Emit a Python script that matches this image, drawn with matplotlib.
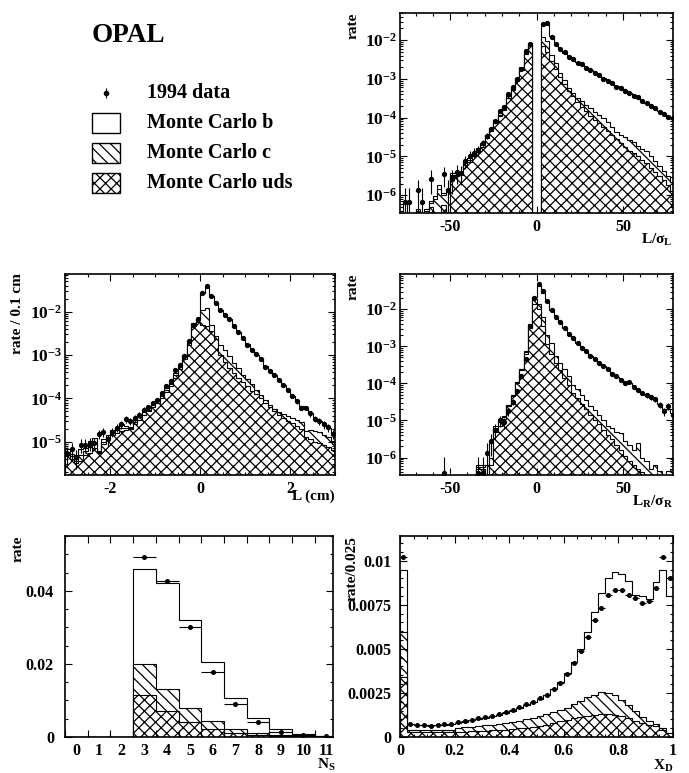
import numpy as np
import matplotlib
matplotlib.use('Agg')
import matplotlib.pyplot as plt
from matplotlib.ticker import MultipleLocator, LogLocator, FuncFormatter, NullFormatter
from matplotlib.patches import Rectangle

plt.rcParams['font.family'] = ['Liberation Serif', 'DejaVu Serif']
plt.rcParams['font.weight'] = 'bold'
plt.rcParams['mathtext.fontset'] = 'custom'
plt.rcParams['mathtext.rm'] = 'Liberation Serif:bold'
plt.rcParams['mathtext.bf'] = 'Liberation Serif:bold'
plt.rcParams['mathtext.it'] = 'Liberation Serif:bold'
plt.rcParams['axes.unicode_minus'] = False
plt.rcParams['hatch.linewidth'] = 0.9
plt.rcParams['hatch.color'] = 'black'

nan = np.nan

# ---- L / sigma_L  (log10 of rate, 64 bins of 2.5 from -80 to 80) ----
ls_edges = np.linspace(-80, 80, 65)
ls_total = [nan, -6.17, nan, nan, -6.35, nan, -6.35, -6.16, -6.03, -5.73,
            -5.95, -5.86, -5.43, -5.43, -5.39, -5.13, -5.05, -4.92, -4.79, -4.66,
            -4.44, -4.27, -4.06, -3.88, -3.71, -3.41, -3.21, -2.98, -2.70, -2.29,
            -2.08, nan, nan, -1.62, -1.57, -1.90, -2.10, -2.22, -2.32, -2.42,
            -2.50, -2.57, -2.63, -2.70, -2.78, -2.85, -2.92, -2.98, -3.05, -3.12,
            -3.19, -3.25, -3.31, -3.36, -3.42, -3.49, -3.56, -3.62, -3.70, -3.77,
            -3.84, -3.92, -3.97, -4.00]
ls_cuds = [nan, nan, nan, nan, -6.40, nan, -6.40, -6.20, -6.10, -5.85,
           -6.00, -5.90, -5.47, -5.47, -5.42, -5.17, -5.10, -4.96, -4.82, -4.70,
           -4.48, -4.30, -4.10, -3.92, -3.74, -3.45, -3.24, -3.01, -2.73, -2.32,
           -2.10, nan, nan, -1.93, -2.03, -2.38, -2.59, -2.85, -3.02, -3.24,
           -3.37, -3.50, -3.58, -3.67, -3.76, -3.85, -3.93, -4.01, -4.12, -4.24,
           -4.36, -4.44, -4.50, -4.57, -4.63, -4.72, -4.80, -4.87, -5.00, -5.12,
           -5.25, -5.38, -5.50, -5.65]
ls_uds = [nan, nan, nan, nan, nan, nan, nan, -6.30, nan, nan,
          -6.25, nan, -5.50, -5.50, -5.47, -5.22, -5.15, -5.00, -4.88, -4.75,
          -4.53, -4.35, -4.15, -3.97, -3.79, -3.50, -3.29, -3.06, -2.78, -2.36,
          -2.14, nan, nan, -2.16, -2.30, -2.55, -2.75, -2.95, -3.12, -3.30,
          -3.45, -3.60, -3.72, -3.84, -3.95, -4.05, -4.15, -4.25, -4.35, -4.45,
          -4.55, -4.65, -4.75, -4.85, -4.92, -5.00, -5.10, -5.18, -5.30, -5.40,
          -5.50, -5.60, -5.75, -5.90]
ls_data = [nan, -6.17, -6.17, nan, -5.87, -6.17, nan, -5.57, nan, nan,
           -5.46, -5.87, -5.57, -5.41, -5.43, -5.12, -4.98, -4.90, -4.84, -4.66,
           -4.47, -4.29, -4.08, -3.84, -3.73, -3.38, -3.22, -3.00, -2.74, -2.29,
           -2.10, nan, nan, -1.59, -1.56, -1.91, -2.09, -2.23, -2.31, -2.43,
           -2.49, -2.58, -2.62, -2.71, -2.77, -2.86, -2.91, -2.99, -3.05, -3.11,
           -3.20, -3.24, -3.32, -3.37, -3.43, -3.48, -3.57, -3.61, -3.71, -3.76,
           -3.85, -3.91, -3.98, -4.00]

# ---- L (cm)  (log10 of rate, 60 bins of 0.1 cm) ----
l_edges = np.linspace(-3, 3, 61)
l_total = [-5.18, -5.28, -5.40, -5.18, -5.14, -4.99, -4.91, -5.22, -4.95, -4.84,
           -4.72, -4.68, -4.60, -4.64, -4.66, -4.49, -4.38, -4.26, -4.21, -4.10,
           -4.03, -3.90, -3.76, -3.61, -3.41, -3.22, -2.99, -2.68, -2.26, -2.15,
           -1.57, -1.42, -1.64, -1.80, -1.95, -2.08, -2.18, -2.32, -2.46, -2.60,
           -2.75, -2.88, -2.99, -3.11, -3.25, -3.36, -3.47, -3.58, -3.70, -3.81,
           -3.94, -4.06, -4.17, -4.25, -4.35, -4.45, -4.53, -4.61, -4.68, -4.80]
l_cuds = [-5.24, -5.34, -5.45, -5.30, -5.22, -5.12, -5.02, -5.24, -5.00, -4.90,
          -4.78, -4.74, -4.68, -4.69, -4.68, -4.55, -4.44, -4.32, -4.26, -4.15,
          -4.06, -3.95, -3.81, -3.66, -3.46, -3.27, -3.04, -2.73, -2.30, -2.19,
          -1.97, -1.92, -2.30, -2.57, -2.76, -2.88, -3.03, -3.18, -3.30, -3.45,
          -3.55, -3.68, -3.80, -3.93, -4.03, -4.15, -4.25, -4.32, -4.36, -4.40,
          -4.45, -4.50, -4.55, -4.75, -4.72, -4.75, -4.78, -4.85, -4.90, -4.98]
l_uds = [-5.30, -5.40, -5.50, -5.45, -5.30, -5.26, -5.15, -5.26, -5.06, -4.95,
         -4.84, -4.80, -4.76, -4.74, -4.70, -4.60, -4.49, -4.38, -4.30, -4.20,
         -4.10, -4.00, -3.86, -3.72, -3.52, -3.32, -3.09, -2.78, -2.33, -2.23,
         -2.30, -2.33, -2.45, -2.62, -3.00, -3.15, -3.30, -3.42, -3.52, -3.62,
         -3.72, -3.82, -3.90, -4.00, -4.10, -4.20, -4.30, -4.38, -4.45, -4.52,
         -4.58, -4.65, -4.70, -4.90, -4.95, -5.00, -5.03, -5.08, -5.12, -5.20]
l_data = [-5.28, -5.18, -5.35, -5.07, -5.07, -5.05, -5.03, -4.82, -4.77, -4.95,
          -4.78, -4.68, -4.60, -4.48, -4.52, -4.46, -4.38, -4.26, -4.21, -4.10,
          -4.03, -3.88, -3.72, -3.61, -3.34, -3.22, -3.03, -2.68, -2.30, -2.17,
          -1.57, -1.41, -1.64, -1.80, -1.95, -2.08, -2.18, -2.32, -2.46, -2.60,
          -2.76, -2.88, -2.98, -3.10, -3.27, -3.37, -3.47, -3.58, -3.70, -3.80,
          -3.95, -4.07, -4.22, -4.22, -4.35, -4.47, -4.53, -4.60, -4.67, -4.82]

# ---- L_R / sigma_R  (log10 of rate, 64 bins) ----
lr_edges = np.linspace(-80, 80, 65)
lr_total = [nan, nan, nan, nan, nan, nan, nan, nan, nan, nan,
            nan, nan, nan, nan, nan, nan, nan, nan, -6.19, -6.19,
            -6.19, -5.60, -5.15, -5.00, -4.88, -4.57, -4.30, -3.95, -3.60, -3.13,
            -2.41, -1.67, -1.34, -1.55, -1.80, -2.01, -2.20, -2.35, -2.50, -2.66,
            -2.78, -2.90, -3.03, -3.13, -3.25, -3.34, -3.45, -3.53, -3.62, -3.73,
            -3.82, -3.92, -3.99, -3.99, -4.10, -4.18, -4.26, -4.32, -4.38, -4.45,
            -4.56, -4.68, -4.70, -4.80]
lr_cuds = [nan, nan, nan, nan, nan, nan, nan, nan, nan, nan,
           nan, nan, nan, nan, nan, nan, nan, nan, -6.25, -6.25,
           -6.20, -6.00, -5.20, -5.05, -4.90, -4.58, -4.32, -3.97, -3.62, -3.15,
           -2.45, -1.72, -1.85, -2.20, -2.70, -2.90, -3.25, -3.45, -3.60, -3.80,
           -4.05, -4.15, -4.30, -4.45, -4.60, -4.72, -4.85, -5.00, -5.15, -5.20,
           -5.30, -5.35, -5.55, -5.65, -5.80, -5.60, -6.00, -6.10, -6.30, -6.20,
           -6.35, nan, -6.35, -6.30]
lr_uds = [nan, nan, nan, nan, nan, nan, nan, nan, nan, nan,
          nan, nan, nan, nan, nan, nan, nan, nan, -6.30, -6.30,
          nan, -6.20, -5.30, -5.15, -4.97, -4.62, -4.35, -3.99, -3.64, -3.20,
          -2.50, -1.87, -2.00, -2.45, -2.95, -3.20, -3.45, -3.65, -3.85, -4.05,
          -4.25, -4.40, -4.55, -4.70, -4.85, -4.98, -5.10, -5.25, -5.40, -5.50,
          -5.65, -5.80, -5.95, -6.10, -6.20, -6.30, -6.40, nan, nan, nan,
          nan, nan, nan, nan]
lr_data = [nan, nan, nan, nan, nan, nan, nan, nan, nan, nan,
           -6.41, nan, nan, nan, nan, nan, nan, nan, -6.41, -6.41,
           -5.87, -5.56, -5.25, -5.00, -5.05, -4.75, -4.50, -4.20, -3.80, -3.35,
           -2.46, -1.70, -1.33, -1.52, -1.78, -2.01, -2.20, -2.35, -2.50, -2.68,
           -2.77, -2.90, -3.04, -3.12, -3.25, -3.33, -3.45, -3.52, -3.60, -3.74,
           -3.80, -3.92, -4.00, -3.97, -4.10, -4.17, -4.26, -4.32, -4.38, -4.43,
           -4.57, -4.75, -4.62, -4.85]

# ---- N_S (rate, integer bins 0..11) ----
ns_edges = np.arange(-0.5, 12.0, 1.0)
ns_total = [0, 0, 0, 0.0459, 0.0421, 0.0319, 0.0205, 0.0108, 0.0052, 0.0022, 0.0008, 0.0003]
ns_cuds = [0, 0, 0, 0.0200, 0.0131, 0.0079, 0.0045, 0.0022, 0.0011, 0.0006, 0.0002, 0.0001]
ns_uds = [0, 0, 0, 0.0114, 0.0072, 0.0040, 0.0022, 0.0011, 0.0005, 0.0002, 0.0001, 0.00005]
ns_data = [nan, nan, nan, 0.0493, 0.0427, 0.0302, 0.0179, 0.0091, 0.0040, 0.0015, 0.0005, 0.0002]

# ---- X_D (rate / 0.025, 40 bins) ----
xd_edges = np.linspace(0, 1, 41)
xd_total = [0.0095, 0.00075, 0.00070, 0.00068, 0.00067, 0.00068, 0.00070, 0.00074, 0.00080, 0.00087,
            0.00094, 0.00100, 0.00108, 0.00117, 0.00127, 0.00138, 0.00150, 0.00165, 0.00180, 0.00198,
            0.00218, 0.00240, 0.00272, 0.00310, 0.00362, 0.00425, 0.00500, 0.00595, 0.00708, 0.00816,
            0.00900, 0.00938, 0.00925, 0.00882, 0.00806, 0.00797, 0.00785, 0.00880, 0.00950, 0.00800]
xd_cuds = [0.00598, 0.00042, 0.00042, 0.00042, 0.00042, 0.00042, 0.00042, 0.00042, 0.00051, 0.00054,
           0.00058, 0.00062, 0.00066, 0.00070, 0.00075, 0.00080, 0.00086, 0.00093, 0.00100, 0.00108,
           0.00117, 0.00128, 0.00140, 0.00152, 0.00165, 0.00185, 0.00205, 0.00225, 0.00240, 0.00253,
           0.00250, 0.00240, 0.00211, 0.00180, 0.00145, 0.00115, 0.00090, 0.00075, 0.00050, 0.00023]
xd_uds = [0.00340, 0.00028, 0.00028, 0.00028, 0.00028, 0.00028, 0.00028, 0.00028, 0.00030, 0.00031,
          0.00032, 0.00033, 0.00035, 0.00037, 0.00040, 0.00042, 0.00045, 0.00049, 0.00053, 0.00058,
          0.00063, 0.00070, 0.00078, 0.00088, 0.00098, 0.00106, 0.00112, 0.00120, 0.00127, 0.00132,
          0.00130, 0.00126, 0.00117, 0.00105, 0.00092, 0.00080, 0.00070, 0.00060, 0.00042, 0.00023]
xd_data = [0.0102, 0.000755, 0.00070, 0.00068, 0.00064, 0.00068, 0.00074, 0.000755, 0.00083, 0.00091,
           0.00098, 0.00106, 0.00111, 0.00121, 0.00130, 0.00142, 0.00155, 0.00168, 0.00187, 0.00200,
           0.00221, 0.00240, 0.00274, 0.00308, 0.00357, 0.00419, 0.00489, 0.00570, 0.00661, 0.00734,
           0.00806, 0.00835, 0.00835, 0.00806, 0.00791, 0.00759, 0.00772, 0.00844, 0.01020, 0.00900]

N_EVENTS = 1.0e6   # for Poisson error bars on the data

HATCH_C = '\\\\\\'
HATCH_UDS = 'xxx'

W, H = 689, 773
fig = plt.figure(figsize=(W / 100, H / 100), dpi=100)


def px_axes(x0, y0, x1, y1):
    return fig.add_axes([x0 / W, 1 - y1 / H, (x1 - x0) / W, (y1 - y0) / H])


def ftext(x, y, s, **kw):
    fig.text(x / W, 1 - y / H, s, **kw)


def style(ax):
    ax.tick_params(which='both', direction='in', top=True, right=True, width=0.8, labelsize=11.5)
    ax.tick_params(which='major', length=5)
    ax.tick_params(which='minor', length=2.5)
    ax.tick_params(axis='x', pad=4)
    for s in ax.spines.values():
        s.set_linewidth(1.2)


def stack(ax, edges, total, cuds, uds, base):
    ax.stairs(total, edges, baseline=base, fill=True, facecolor='white', edgecolor='black', lw=0.8)
    ax.stairs(cuds, edges, baseline=base, fill=True, facecolor='white', edgecolor='black', lw=0.8,
              hatch=HATCH_C)
    ax.stairs(uds, edges, baseline=base, fill=True, facecolor='white', edgecolor='black', lw=0.8,
              hatch=HATCH_UDS)


def log_panel(ax, edges, total, cuds, uds, data, ylo, yhi, xlim):
    floor = 1e-12
    t = np.nan_to_num(10.0 ** np.array(total), nan=floor)
    c = np.nan_to_num(10.0 ** np.array(cuds), nan=floor)
    u = np.nan_to_num(10.0 ** np.array(uds), nan=floor)
    stack(ax, edges, t, c, u, floor)
    centers = 0.5 * (edges[1:] + edges[:-1])
    d = 10.0 ** np.array(data)
    err = np.sqrt(d / N_EVENTS)
    ax.errorbar(centers, d, yerr=[np.minimum(err, d * 0.9), err], fmt='o', ms=2.8,
                color='black', elinewidth=0.8, capsize=0)
    ax.set_yscale('log')
    ax.set_ylim(10 ** ylo, 10 ** yhi)
    ax.set_xlim(*xlim)
    ax.yaxis.set_major_locator(LogLocator(base=10, numticks=20))
    ax.yaxis.set_minor_locator(LogLocator(base=10, subs=np.arange(2, 10), numticks=20))
    ax.yaxis.set_minor_formatter(NullFormatter())
    ax.yaxis.set_major_formatter(FuncFormatter(lambda v, p: r'$\mathbf{10^{%d}}$' % round(np.log10(v))))
    style(ax)
    ax.tick_params(axis='y', pad=2, labelsize=12.5)


# ---- top right: L / sigma_L ----
axA = px_axes(400, 13, 673, 213)
log_panel(axA, ls_edges, ls_total, ls_cuds, ls_uds, ls_data, -6.46, -1.30, (-79, 79))
axA.xaxis.set_major_locator(MultipleLocator(50))
axA.xaxis.set_minor_locator(MultipleLocator(10))
ftext(353, 13, 'rate', rotation=90, ha='center', va='top', fontsize=11)
ftext(673, 232, r'$\mathbf{L/\sigma_L}$', ha='right', va='top', fontsize=11)

# ---- middle left: L (cm) ----
axB = px_axes(65, 274, 335, 475)
log_panel(axB, l_edges, l_total, l_cuds, l_uds, l_data, -5.77, -1.13, (-3, 3))
axB.xaxis.set_major_locator(MultipleLocator(2))
axB.xaxis.set_minor_locator(MultipleLocator(0.5))
ftext(18, 273, 'rate / 0.1 cm', rotation=90, ha='center', va='top', fontsize=11)
ftext(335, 490, 'L (cm)', ha='right', va='top', fontsize=11)

# ---- middle right: L_R / sigma_R ----
axC = px_axes(400, 274, 673, 475)
log_panel(axC, lr_edges, lr_total, lr_cuds, lr_uds, lr_data, -6.47, -1.05, (-79, 79))
axC.xaxis.set_major_locator(MultipleLocator(50))
axC.xaxis.set_minor_locator(MultipleLocator(10))
ftext(353, 274, 'rate', rotation=90, ha='center', va='top', fontsize=11)
ftext(673, 494, r'$\mathbf{L_R/\sigma_R}$', ha='right', va='top', fontsize=11)

# ---- bottom left: N_S ----
axD = px_axes(65, 536, 333, 737)
stack(axD, ns_edges, ns_total, ns_cuds, ns_uds, 0)
ns_centers = 0.5 * (ns_edges[1:] + ns_edges[:-1])
axD.errorbar(ns_centers, ns_data, xerr=0.5, yerr=0.0002, fmt='o', ms=2.6, color='black',
             elinewidth=0.8, capsize=0)
axD.set_xlim(-0.5, 11.3)
axD.set_ylim(0, 0.055)
style(axD)
axD.xaxis.set_major_locator(MultipleLocator(1))
axD.xaxis.set_minor_locator(MultipleLocator(1, offset=0.5))
axD.tick_params(axis='x', which='major', length=0, pad=4)
axD.tick_params(axis='x', which='minor', length=5)
axD.yaxis.set_major_locator(MultipleLocator(0.02))
axD.yaxis.set_minor_locator(MultipleLocator(0.005))
axD.yaxis.set_major_formatter(FuncFormatter(lambda v, p: '%g' % v))
axD.tick_params(axis='y', pad=8)
ftext(18, 536, 'rate', rotation=90, ha='center', va='top', fontsize=11)
ftext(336, 757, r'$\mathbf{N_S}$', ha='right', va='top', fontsize=11)

# ---- bottom right: X_D ----
axE = px_axes(400, 536, 673, 737)
stack(axE, xd_edges, xd_total, xd_cuds, xd_uds, 0)
xd_centers = 0.5 * (xd_edges[1:] + xd_edges[:-1])
axE.errorbar(xd_centers, xd_data, xerr=0.0125, yerr=0.00005, fmt='o', ms=2.6, color='black',
             elinewidth=0.8, capsize=0)
axE.set_xlim(0, 1)
axE.set_ylim(0, 0.0114)
style(axE)
axE.xaxis.set_major_locator(MultipleLocator(0.2))
axE.xaxis.set_minor_locator(MultipleLocator(0.05))
axE.xaxis.set_major_formatter(FuncFormatter(lambda v, p: '%g' % v))
axE.yaxis.set_major_locator(MultipleLocator(0.0025))
axE.yaxis.set_minor_locator(MultipleLocator(0.0005))
axE.yaxis.set_major_formatter(FuncFormatter(lambda v, p: '%g' % v))
axE.tick_params(axis='y', pad=6)
ftext(352, 536, 'rate/0.025', rotation=90, ha='center', va='top', fontsize=11)
ftext(673, 758, r'$\mathbf{X_D}$', ha='right', va='top', fontsize=11)

# ---- legend block ----
lg = fig.add_axes([0, 0, 1, 1])
lg.set_xlim(0, W)
lg.set_ylim(H, 0)
lg.axis('off')
lg.text(92, 35, 'OPAL', fontsize=19.5, va='center', ha='left')
lg.errorbar([106], [93], yerr=[5], fmt='o', ms=3, color='black', elinewidth=0.8, capsize=0)
lg.add_patch(Rectangle((92, 113), 28, 20, facecolor='white', edgecolor='black', lw=1))
lg.add_patch(Rectangle((92, 143), 28, 20, facecolor='white', edgecolor='black', lw=1, hatch=HATCH_C))
lg.add_patch(Rectangle((92, 173), 28, 20, facecolor='white', edgecolor='black', lw=1, hatch=HATCH_UDS))
for y, s in [(93, '1994 data'), (123, 'Monte Carlo b'), (153, 'Monte Carlo c'), (183, 'Monte Carlo uds')]:
    lg.text(147, y, s, fontsize=14.5, va='center', ha='left')

fig.savefig('out.png', dpi=100)
